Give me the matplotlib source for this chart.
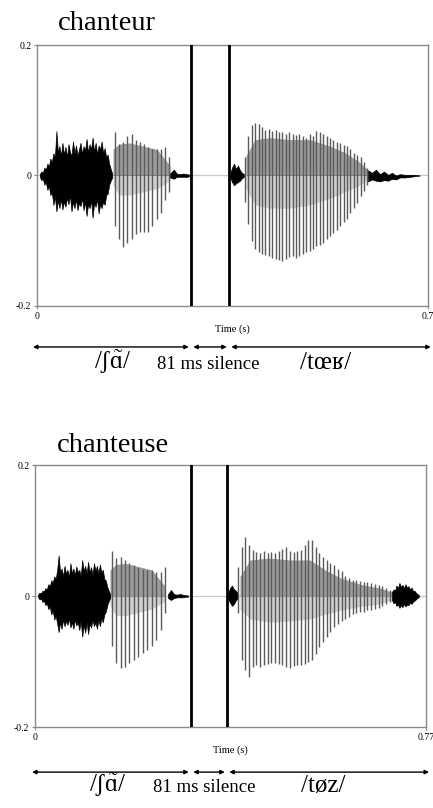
import matplotlib
matplotlib.use("Agg")
import matplotlib.pyplot as plt
import numpy as np

plt.rcParams['font.family'] = ['Liberation Serif', 'DejaVu Serif']
plt.rcParams['mathtext.fontset'] = 'custom'
plt.rcParams['mathtext.rm'] = 'Liberation Serif'
plt.rcParams['mathtext.it'] = 'Liberation Serif:italic'
plt.rcParams['mathtext.fallback'] = 'stix'

# ---------------- DATA ----------------
words = ["chanteur", "chanteuse"]
xmax_vals = [0.7, 0.77]
xmax_labels = ["0.7", "0.77"]
ytick_vals = [-0.2, 0.0, 0.2]
ytick_labels = ["-0.2", "0", "0.2"]
seg_labels = [["/ʃɑ̃/", "81 ms silence", "/tœʁ/"],
              ["/ʃɑ̃/", "81 ms silence", "/tøz/"]]
seg_label_x = [[0.136, 0.306, 0.516], [0.144, 0.333, 0.567]]
bars = [[0.2757, 0.3437], [0.3072, 0.3781]]

# ---- chanteur ----
A_fric_t = [0.0050, 0.0077, 0.0104, 0.0131, 0.0158, 0.0185, 0.0212, 0.0239, 0.0266, 0.0293,
            0.0320, 0.0347, 0.0374, 0.0401, 0.0428, 0.0455, 0.0482, 0.0509, 0.0536, 0.0563,
            0.0590, 0.0617, 0.0644, 0.0671, 0.0698, 0.0725, 0.0752, 0.0779, 0.0806, 0.0833,
            0.0860, 0.0887, 0.0914, 0.0941, 0.0968, 0.0995, 0.1022, 0.1049, 0.1076, 0.1103,
            0.1130, 0.1157, 0.1184, 0.1211, 0.1238, 0.1265, 0.1292, 0.1319, 0.1346]
A_fric_hi = [0.002, 0.006, 0.004, 0.012, 0.009, 0.018, 0.014, 0.026, 0.020, 0.034,
             0.028, 0.068, 0.035, 0.045, 0.030, 0.050, 0.032, 0.044, 0.028, 0.048,
             0.036, 0.030, 0.052, 0.034, 0.046, 0.030, 0.040, 0.050, 0.033, 0.045,
             0.038, 0.056, 0.035, 0.048, 0.040, 0.058, 0.036, 0.050, 0.032, 0.046,
             0.040, 0.052, 0.034, 0.042, 0.028, 0.032, 0.018, 0.010, 0.003]
A_fric_lo = [-0.002, -0.007, -0.005, -0.014, -0.010, -0.022, -0.016, -0.030, -0.026, -0.045,
             -0.032, -0.055, -0.038, -0.050, -0.036, -0.052, -0.040, -0.048, -0.034, -0.044,
             -0.030, -0.055, -0.040, -0.050, -0.036, -0.053, -0.042, -0.047, -0.034, -0.053,
             -0.040, -0.062, -0.044, -0.050, -0.038, -0.065, -0.042, -0.048, -0.036, -0.058,
             -0.044, -0.050, -0.040, -0.045, -0.030, -0.028, -0.014, -0.008, -0.003]
A_v1_t = [0.1396, 0.1468, 0.1545, 0.1617, 0.1695, 0.1767, 0.1844, 0.1915, 0.1992, 0.2064,
          0.2143, 0.2214, 0.2291, 0.2368]
A_v1_hi = [0.067, 0.048, 0.051, 0.060, 0.063, 0.055, 0.052, 0.048, 0.043, 0.040, 0.040, 0.040,
           0.044, 0.028]
A_v1_lo = [-0.078, -0.098, -0.110, -0.103, -0.098, -0.090, -0.087, -0.087, -0.086, -0.078,
           -0.067, -0.057, -0.037, -0.026]
A_b1_t = [0.1361, 0.1468, 0.1653, 0.1904, 0.2148, 0.2381]
A_b1_hi = [0.040, 0.048, 0.050, 0.045, 0.040, 0.015]
A_b1_lo = [-0.015, -0.030, -0.030, -0.025, -0.020, -0.008]
A_tail1_t = [0.238, 0.245, 0.250, 0.256, 0.262, 0.268, 0.274]
A_tail1_hi = [0.003, 0.009, 0.003, 0.002, 0.003, 0.002, 0.001]
A_tail1_lo = [-0.003, -0.005, -0.002, -0.002, -0.002, -0.002, -0.001]
A_burst_t = [0.3455, 0.3491, 0.3527, 0.3562, 0.3598, 0.3634, 0.3670, 0.3706]
A_burst_hi = [0.002, 0.012, 0.018, 0.010, 0.015, 0.008, 0.004, 0.002]
A_burst_lo = [-0.002, -0.010, -0.015, -0.012, -0.010, -0.008, -0.004, -0.002]
A_v2_t = [0.3724, 0.3784, 0.3845, 0.3906, 0.3967, 0.4028, 0.4089, 0.4150, 0.4211, 0.4271,
          0.4332, 0.4393, 0.4454, 0.4515, 0.4576, 0.4637, 0.4697, 0.4758, 0.4819, 0.4880,
          0.4941, 0.5002, 0.5063, 0.5124, 0.5184, 0.5245, 0.5306, 0.5367, 0.5428, 0.5489,
          0.5550, 0.5610, 0.5671, 0.5732, 0.5793, 0.5854, 0.5915]
A_v2_hi = [0.028, 0.060, 0.078, 0.080, 0.079, 0.074, 0.070, 0.072, 0.068, 0.069, 0.066, 0.067,
           0.064, 0.066, 0.063, 0.062, 0.064, 0.060, 0.058, 0.063, 0.061, 0.068, 0.067, 0.063,
           0.060, 0.058, 0.055, 0.052, 0.050, 0.047, 0.045, 0.040, 0.035, 0.031, 0.028, 0.020,
           0.012]
A_v2_lo = [-0.040, -0.075, -0.100, -0.112, -0.118, -0.120, -0.122, -0.124, -0.126, -0.128,
           -0.129, -0.131, -0.128, -0.125, -0.124, -0.126, -0.123, -0.121, -0.118, -0.115,
           -0.112, -0.108, -0.106, -0.103, -0.098, -0.093, -0.088, -0.083, -0.078, -0.072,
           -0.066, -0.058, -0.050, -0.042, -0.032, -0.024, -0.015]
A_b2_t = [0.3741, 0.3903, 0.4171, 0.4529, 0.4887, 0.5245, 0.5514, 0.5782, 0.5926]
A_b2_hi = [0.030, 0.055, 0.058, 0.055, 0.055, 0.045, 0.035, 0.020, 0.008]
A_b2_lo = [-0.020, -0.045, -0.050, -0.050, -0.045, -0.035, -0.025, -0.015, -0.005]
A_tail2_t = [0.5926, 0.5997, 0.6069, 0.6140, 0.6212, 0.6284, 0.6355, 0.6427, 0.6498, 0.6588,
             0.6677, 0.6767, 0.6856]
A_tail2_hi = [0.008, 0.004, 0.009, 0.002, 0.006, 0.001, 0.004, 0.000, 0.002, 0.001, 0.001,
              0.001, 0.0]
A_tail2_lo = [-0.009, -0.006, -0.008, -0.009, -0.007, -0.008, -0.005, -0.006, -0.003, -0.003,
              -0.002, -0.001, 0.0]

# ---- chanteuse ----
B_fric_t = [0.0060, 0.0089, 0.0118, 0.0147, 0.0176, 0.0205, 0.0234, 0.0263, 0.0292, 0.0321,
            0.0350, 0.0379, 0.0408, 0.0437, 0.0466, 0.0495, 0.0524, 0.0553, 0.0582, 0.0611,
            0.0640, 0.0669, 0.0698, 0.0727, 0.0756, 0.0785, 0.0814, 0.0843, 0.0872, 0.0901,
            0.0930, 0.0959, 0.0988, 0.1017, 0.1046, 0.1075, 0.1104, 0.1133, 0.1162, 0.1191,
            0.1220, 0.1249, 0.1278, 0.1307, 0.1336, 0.1365, 0.1394, 0.1423, 0.1452, 0.1481]
B_fric_hi = [0.002, 0.005, 0.004, 0.008, 0.007, 0.012, 0.010, 0.018, 0.015, 0.024,
             0.020, 0.030, 0.026, 0.040, 0.062, 0.036, 0.042, 0.030, 0.046, 0.034,
             0.040, 0.028, 0.050, 0.035, 0.042, 0.032, 0.045, 0.036, 0.040, 0.030,
             0.055, 0.038, 0.046, 0.034, 0.052, 0.036, 0.044, 0.032, 0.050, 0.038,
             0.046, 0.034, 0.048, 0.036, 0.040, 0.026, 0.024, 0.014, 0.008, 0.003]
B_fric_lo = [-0.002, -0.005, -0.004, -0.009, -0.007, -0.014, -0.011, -0.020, -0.016, -0.028,
             -0.022, -0.036, -0.030, -0.042, -0.055, -0.040, -0.050, -0.036, -0.046, -0.038,
             -0.044, -0.034, -0.048, -0.040, -0.050, -0.036, -0.045, -0.040, -0.052, -0.038,
             -0.062, -0.044, -0.056, -0.040, -0.058, -0.042, -0.048, -0.036, -0.046, -0.040,
             -0.050, -0.036, -0.046, -0.034, -0.040, -0.028, -0.024, -0.014, -0.008, -0.003]
B_v1_t = [0.1510, 0.1595, 0.1688, 0.1772, 0.1857, 0.1950, 0.2034, 0.2121, 0.2211, 0.2298,
          0.2383, 0.2475, 0.2560]
B_v1_hi = [0.068, 0.058, 0.060, 0.055, 0.050, 0.047, 0.045, 0.042, 0.040, 0.040, 0.037, 0.037,
           0.045]
B_v1_lo = [-0.077, -0.103, -0.110, -0.108, -0.103, -0.098, -0.093, -0.087, -0.082, -0.077,
           -0.067, -0.052, -0.026]
B_b1_t = [0.1477, 0.1595, 0.1772, 0.2034, 0.2298, 0.2560]
B_b1_hi = [0.040, 0.048, 0.050, 0.045, 0.040, 0.015]
B_b1_lo = [-0.015, -0.030, -0.030, -0.025, -0.020, -0.008]
B_tail1_t = [0.2619, 0.2678, 0.2737, 0.2796, 0.2855, 0.2914, 0.2973, 0.3013]
B_tail1_hi = [0.003, 0.009, 0.003, 0.002, 0.003, 0.002, 0.001, 0.001]
B_tail1_lo = [-0.003, -0.006, -0.003, -0.002, -0.002, -0.002, -0.001, -0.001]
B_burst_t = [0.3801, 0.3840, 0.3879, 0.3919, 0.3958, 0.3998]
B_burst_hi = [0.004, 0.012, 0.016, 0.010, 0.008, 0.003]
B_burst_lo = [-0.004, -0.010, -0.015, -0.012, -0.006, -0.003]
B_v2_t = [0.3998, 0.4071, 0.4143, 0.4216, 0.4289, 0.4362, 0.4435, 0.4508, 0.4580, 0.4653,
          0.4726, 0.4799, 0.4872, 0.4945, 0.5018, 0.5091, 0.5163, 0.5236, 0.5309, 0.5382,
          0.5455, 0.5528, 0.5601, 0.5674, 0.5746, 0.5819, 0.5892, 0.5965, 0.6038, 0.6111,
          0.6184, 0.6256, 0.6329, 0.6402, 0.6475, 0.6548, 0.6621, 0.6694, 0.6767, 0.6839,
          0.6912, 0.6985]
B_v2_hi = [0.044, 0.075, 0.090, 0.078, 0.070, 0.067, 0.066, 0.068, 0.066, 0.067, 0.065, 0.069,
           0.072, 0.075, 0.068, 0.067, 0.069, 0.070, 0.078, 0.085, 0.086, 0.075, 0.066, 0.060,
           0.055, 0.050, 0.047, 0.042, 0.038, 0.030, 0.027, 0.025, 0.024, 0.023, 0.022, 0.021,
           0.020, 0.019, 0.017, 0.015, 0.012, 0.009]
B_v2_lo = [-0.026, -0.098, -0.113, -0.124, -0.108, -0.105, -0.108, -0.106, -0.104, -0.102,
           -0.102, -0.104, -0.106, -0.108, -0.110, -0.107, -0.106, -0.105, -0.104, -0.100,
           -0.098, -0.088, -0.078, -0.070, -0.063, -0.055, -0.047, -0.042, -0.038, -0.035,
           -0.032, -0.028, -0.026, -0.025, -0.024, -0.022, -0.021, -0.020, -0.018, -0.015,
           -0.012, -0.009]
B_b2_t = [0.4037, 0.4234, 0.4628, 0.5022, 0.5416, 0.5711, 0.6006, 0.6400, 0.6794, 0.7030]
B_b2_hi = [0.030, 0.055, 0.058, 0.055, 0.055, 0.040, 0.028, 0.018, 0.012, 0.006]
B_b2_lo = [-0.020, -0.035, -0.040, -0.038, -0.035, -0.028, -0.022, -0.016, -0.012, -0.006]
B_tail2_t = [0.7030, 0.7059, 0.7089, 0.7118, 0.7148, 0.7177, 0.7207, 0.7237, 0.7267, 0.7296,
             0.7326, 0.7355, 0.7385, 0.7414, 0.7444, 0.7474, 0.7503, 0.7533, 0.7562]
B_tail2_hi = [0.006, 0.010, 0.008, 0.016, 0.012, 0.020, 0.014, 0.017, 0.012, 0.018, 0.013,
              0.015, 0.010, 0.013, 0.008, 0.008, 0.005, 0.003, 0.001]
B_tail2_lo = [-0.006, -0.011, -0.009, -0.015, -0.013, -0.018, -0.014, -0.017, -0.012, -0.016,
              -0.013, -0.014, -0.010, -0.012, -0.009, -0.007, -0.005, -0.003, -0.001]

panels = [
    dict(noise=[(A_fric_t, A_fric_hi, A_fric_lo), (A_tail1_t, A_tail1_hi, A_tail1_lo),
                (A_burst_t, A_burst_hi, A_burst_lo), (A_tail2_t, A_tail2_hi, A_tail2_lo)],
         pulses=[(A_v1_t, A_v1_hi, A_v1_lo), (A_v2_t, A_v2_hi, A_v2_lo)],
         bands=[(A_b1_t, A_b1_hi, A_b1_lo), (A_b2_t, A_b2_hi, A_b2_lo)]),
    dict(noise=[(B_fric_t, B_fric_hi, B_fric_lo), (B_tail1_t, B_tail1_hi, B_tail1_lo),
                (B_burst_t, B_burst_hi, B_burst_lo), (B_tail2_t, B_tail2_hi, B_tail2_lo)],
         pulses=[(B_v1_t, B_v1_hi, B_v1_lo), (B_v2_t, B_v2_hi, B_v2_lo)],
         bands=[(B_b1_t, B_b1_hi, B_b1_lo), (B_b2_t, B_b2_hi, B_b2_lo)]),
]

# ---------------- LAYOUT ----------------
fig = plt.figure(figsize=(4.33, 8.08), dpi=100)
axes_rects = [[0.0855, 0.6213, 0.903, 0.323], [0.0808, 0.1002, 0.903, 0.3243]]
title_pos = [(0.134, 0.963), (0.1316, 0.4406)]
arrow_y = [-0.157, -0.172]
label_base_y = [-0.241, -0.248]
arrow_left = [-0.0072, -0.0059]
arrow_right_pad = [0.005, 0.006]


def as_display(s):
    # a nasal vowel (base letter + combining tilde) is typeset with mathtext's \tilde accent
    if '\u0303' in s:
        i = s.index('\u0303')
        return s[:i - 1] + r'$\tilde{\mathrm{' + s[i - 1] + r'}}$' + s[i + 1:]
    return s


for i, p in enumerate(panels):
    ax = fig.add_axes(axes_rects[i])
    xm = xmax_vals[i]
    ax.set_xlim(0, xm)
    ax.set_ylim(-0.2, 0.2)
    ax.axhline(0, color='#c8c8c8', lw=0.9, zorder=1)

    for (t, hi, lo) in p['noise']:
        ax.fill_between(t, lo, hi, color='black', lw=0.5, edgecolor='black', zorder=3)
    for (t, hi, lo) in p['bands']:
        ax.fill_between(t, 0, hi, color='#222222', alpha=0.45, lw=0, zorder=2)
        ax.fill_between(t, lo, 0, color='#666666', alpha=0.30, lw=0, zorder=2)
    for (t, hi, lo) in p['pulses']:
        ax.vlines(t, lo, hi, color='#5a5a5a', lw=1.0, zorder=3)

    for b in bars[i]:
        ax.axvline(b, color='black', lw=2.0, zorder=5)

    for s in ax.spines.values():
        s.set_color('#8a8a8a')
        s.set_linewidth(1.0)
    ax.set_xticks([0, xm])
    ax.set_xticklabels(["0", xmax_labels[i]])
    ax.set_yticks(ytick_vals)
    ax.set_yticklabels(ytick_labels)
    ax.tick_params(axis='both', labelsize=7, length=2.5, width=0.8, color='#8a8a8a', pad=1.5)
    ax.set_xlabel("Time (s)", fontsize=7.5, labelpad=3)

    fig.text(title_pos[i][0], title_pos[i][1], words[i], fontsize=20.5, va='baseline', ha='left')

    # segment arrows (between the start, the two silence bars and the end)
    bounds = [arrow_left[i], bars[i][0], bars[i][1], xm + arrow_right_pad[i]]
    trans = ax.get_xaxis_transform()
    gap = 0.004 * xm / 0.7
    for k in range(3):
        x0 = bounds[k] + (gap if k > 0 else 0)
        x1 = bounds[k + 1] - (gap if k < 2 else 0)
        ax.annotate("", xy=(x1, arrow_y[i]), xytext=(x0, arrow_y[i]), xycoords=trans,
                    textcoords=trans, annotation_clip=False,
                    arrowprops=dict(arrowstyle='<|-|>', color='black', lw=1.0,
                                    mutation_scale=6, shrinkA=0, shrinkB=0))
        fs = 13.5 if k == 1 else 18
        ax.text(seg_label_x[i][k], label_base_y[i], as_display(seg_labels[i][k]),
                transform=trans, ha='center', va='baseline', fontsize=fs, clip_on=False)

fig.savefig("out.png", dpi=100)
